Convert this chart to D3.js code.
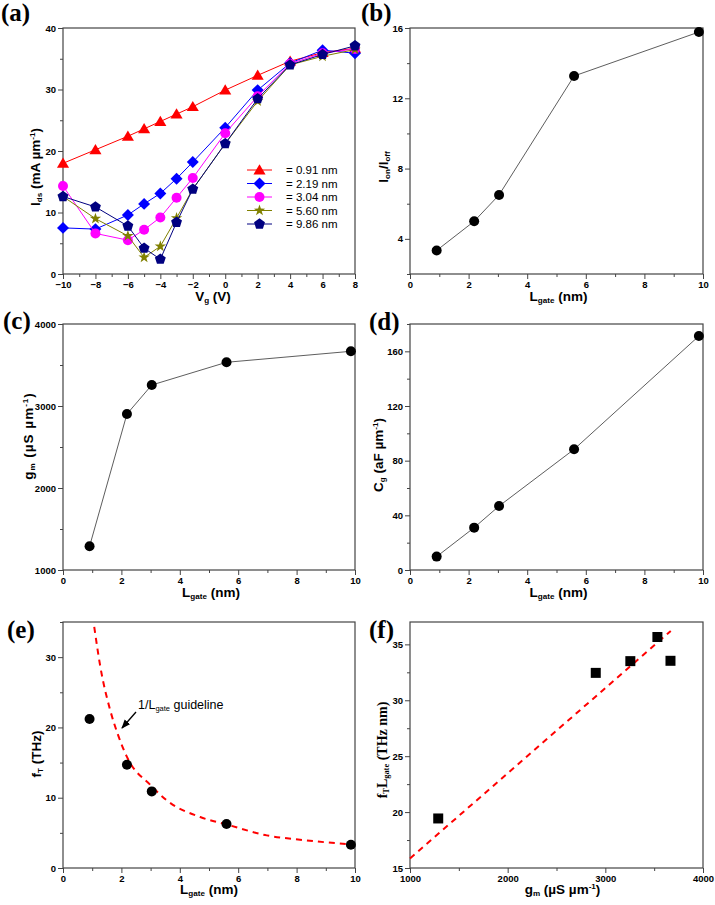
<!DOCTYPE html>
<html><head><meta charset="utf-8">
<script src="https://cdn.jsdelivr.net/npm/d3@7"></script>
<style>
body{margin:0;background:#fff}
</style>
</head><body>
<svg id="c" width="715" height="905" font-family="'Liberation Sans', Arial, sans-serif"></svg>
<script>
// ---------- DATA ----------
const vg = [-10, -8, -6, -5, -4, -3, -2, 0, 2, 4, 6, 8];
const legendLabels = ["= 0.91 nm", "= 2.19 nm", "= 3.04 nm", "= 5.60 nm", "= 9.86 nm"];
const ids091 = [18.0, 20.2, 22.4, 23.6, 24.8, 26.0, 27.2, 29.9, 32.3, 34.6, 36.0, 36.7];
const ids219 = [7.5, 7.3, 9.6, 11.4, 13.1, 15.5, 18.2, 23.8, 29.9, 34.3, 36.4, 35.9];
const ids304 = [14.3, 6.6, 5.5, 7.2, 9.2, 12.4, 15.6, 22.9, 28.9, 34.2, 35.9, 36.6];
const ids560 = [12.6, 9.0, 6.2, 2.7, 4.5, 9.1, 13.8, 21.2, 28.1, 34.0, 35.4, 36.5];
const ids986 = [12.6, 10.9, 7.8, 4.2, 2.4, 8.4, 13.8, 21.2, 28.5, 34.0, 35.7, 37.1];
const seriesColors = ["#ff0000", "#0000ff", "#ff00ff", "#808000", "#000080"];

const lgate = [0.91, 2.19, 3.04, 5.60, 9.86];
const ionIoff = [3.34, 5.0, 6.5, 13.27, 15.77];
const gm = [1289, 2902, 3256, 3533, 3667];
const cg = [9.8, 31.0, 46.8, 88.3, 171.2];
const fT = [21.2, 14.7, 10.9, 6.26, 3.32];
const fTL = [19.43, 32.45, 33.5, 35.66, 33.53];
// guideline (e), points
const guideX = [1.07, 1.28, 1.62, 1.87, 2.19, 3.01, 3.56, 4.7, 5.6, 6.98, 8.12, 10];
const guideY = [34.3, 28.6, 22.4, 19.1, 15.8, 11.75, 9.6, 7.25, 6.2, 4.64, 4.03, 3.3];
// linear guide (f)
const fitX = [1000, 3670];
const fitY = [15.85, 36.2];

// ---------- HELPERS ----------
const SANS = "'Liberation Sans', Arial, sans-serif";
const SERIF = "'Liberation Serif', 'Times New Roman', serif";
const svg = d3.select("#c");

function range(a, b, s) { const r = []; for (let v = a; v <= b + 1e-9; v += s) r.push(+v.toFixed(6)); return r; }

function panel(o) {
  const g = svg.append("g");
  const x = d3.scaleLinear().domain(o.xdom).range([o.x0, o.x0 + o.w]);
  const y = d3.scaleLinear().domain(o.ydom).range([o.y0 + o.h, o.y0]);
  const bot = o.y0 + o.h, left = o.x0;
  g.append("g").attr("transform", `translate(0,${bot})`)
    .call(d3.axisBottom(x).tickValues(o.xMinor).tickSize(3).tickFormat(""))
    .call(s => s.select(".domain").remove());
  g.append("g").attr("transform", `translate(${left},0)`)
    .call(d3.axisLeft(y).tickValues(o.yMinor).tickSize(3).tickFormat(""))
    .call(s => s.select(".domain").remove());
  g.append("g").attr("class", "ax").attr("transform", `translate(0,${bot})`)
    .call(d3.axisBottom(x).tickValues(o.xMajor).tickSize(5).tickPadding(2).tickFormat(d3.format("d")))
    .call(s => s.select(".domain").remove());
  g.append("g").attr("class", "ax").attr("transform", `translate(${left},0)`)
    .call(d3.axisLeft(y).tickValues(o.yMajor).tickSize(5).tickPadding(2).tickFormat(d3.format("d")))
    .call(s => s.select(".domain").remove());
  g.selectAll("g").attr("font-family", SANS);
  g.selectAll(".tick line").attr("stroke", "#444");
  g.selectAll(".ax text").attr("font-size", 9.5).attr("font-weight", "bold").attr("fill", "#000");
  g.append("rect").attr("x", o.x0).attr("y", o.y0).attr("width", o.w).attr("height", o.h)
    .attr("fill", "none").attr("stroke", "#444").attr("stroke-width", 1.2);
  return { g, x, y };
}

function rich(sel, parts, base) {
  parts.forEach(([t, k]) => {
    const ts = sel.append("tspan").text(t);
    if (k === "sub") ts.attr("font-size", base * 0.6).attr("baseline-shift", "-30%");
    else if (k === "sup") ts.attr("font-size", base * 0.6).attr("baseline-shift", "60%");
  });
  return sel;
}

function xTitle(p, parts, yb, opts = {}) {
  const [a, b] = p.x.range();
  const sz = opts.size || 13.5;
  const t = svg.append("text").attr("x", (a + b) / 2 + (opts.dx || 0)).attr("y", yb).attr("text-anchor", "middle")
    .attr("font-size", sz).attr("font-weight", "bold").attr("font-family", opts.serif ? SERIF : SANS);
  rich(t, parts, sz);
}
function yTitle(parts, xc, cy, opts = {}) {
  const sz = opts.size || 13.5;
  const t = svg.append("text").attr("transform", `translate(${xc},${cy}) rotate(-90)`)
    .attr("text-anchor", "middle").attr("font-size", sz).attr("font-weight", "bold")
    .attr("font-family", opts.serif ? SERIF : SANS);
  if (opts.ls) t.attr("letter-spacing", opts.ls);
  rich(t, parts, sz);
}
function panelLabel(txt, x, y) {
  svg.append("text").attr("x", x).attr("y", y).text(txt)
    .attr("font-family", SERIF).attr("font-weight", "bold").attr("font-size", 25);
}

const shapes = {
  triangle: r => `M0,${-r * 1.05}L${r * 1.1},${r * 0.8}L${-r * 1.1},${r * 0.8}Z`,
  diamond: r => `M0,${-r * 1.15}L${r * 1.15},0L0,${r * 1.15}L${-r * 1.15},0Z`,
  circle: r => `M${r},0A${r},${r} 0 1,1 ${-r},0A${r},${r} 0 1,1 ${r},0Z`,
  star: r => {
    let s = "";
    for (let i = 0; i < 10; i++) {
      const a = -Math.PI / 2 + i * Math.PI / 5, rr = i % 2 ? r * 0.45 : r * 1.15;
      s += (i ? "L" : "M") + (rr * Math.cos(a)).toFixed(2) + "," + (rr * Math.sin(a)).toFixed(2);
    }
    return s + "Z";
  },
  pentagon: r => {
    let s = "";
    for (let i = 0; i < 5; i++) {
      const a = -Math.PI / 2 + i * 2 * Math.PI / 5, rr = r * 1.1;
      s += (i ? "L" : "M") + (rr * Math.cos(a)).toFixed(2) + "," + (rr * Math.sin(a)).toFixed(2);
    }
    return s + "Z";
  },
  square: r => `M${-r},${-r}H${r}V${r}H${-r}Z`
};

function series(p, xs, ys, color, shape, r, opts = {}) {
  const pts = xs.map((d, i) => [p.x(d), p.y(ys[i])]);
  if (!opts.noLine)
    p.g.append("path").attr("d", d3.line()(pts)).attr("fill", "none")
      .attr("stroke", opts.lineColor || color).attr("stroke-width", opts.lw || 1);
  p.g.selectAll(null).data(pts).join("path")
    .attr("transform", d => `translate(${d[0]},${d[1]})`)
    .attr("d", shapes[shape](r)).attr("fill", color);
}

// ---------- PANEL (a) ----------
const pa = panel({ x0: 63, y0: 28, w: 292, h: 246, xdom: [-10, 8], ydom: [0, 40],
  xMajor: range(-10, 8, 2), xMinor: range(-9, 7, 2), yMajor: range(0, 40, 10), yMinor: range(5, 35, 10) });
const allIds = [ids091, ids219, ids304, ids560, ids986];
const shapeA = ["triangle", "diamond", "circle", "star", "pentagon"];
const radA = [5.5, 5.2, 5, 5.2, 5.2];
allIds.forEach((ys, i) => series(pa, vg, ys, seriesColors[i], shapeA[i], radA[i]));
legendLabels.forEach((lab, i) => {
  const yy = 170 + i * 13.5;
  svg.append("line").attr("x1", 247).attr("x2", 272).attr("y1", yy).attr("y2", yy)
    .attr("stroke", seriesColors[i]).attr("stroke-width", 1);
  svg.append("path").attr("transform", `translate(259.5,${yy})`).attr("d", shapes[shapeA[i]](radA[i]))
    .attr("fill", seriesColors[i]);
  svg.append("text").attr("x", 286).attr("y", yy).attr("dy", "0.36em").attr("font-size", 11.5)
    .attr("font-family", SANS).text(lab);
});
xTitle(pa, [["V", "n"], ["g", "sub"], [" (V)", "n"]], 301, { dx: 4 });
yTitle([["I", "n"], ["ds", "sub"], [" (mA µm", "n"], ["-1", "sup"], [")", "n"]], 40, 167);
panelLabel("(a)", 1, 21);

// ---------- PANEL (b) ----------
const pb = panel({ x0: 410, y0: 28, w: 293, h: 246, xdom: [0, 10], ydom: [2, 16],
  xMajor: range(0, 10, 2), xMinor: range(1, 9, 2), yMajor: range(4, 16, 4), yMinor: range(2, 14, 4) });
series(pb, lgate, ionIoff, "#000", "circle", 5, { lineColor: "#333", lw: 0.8 });
xTitle(pb, [["L", "n"], ["gate", "sub"], [" (nm)", "n"]], 301, { dx: 2 });
yTitle([["I", "n"], ["on", "sub"], ["/I", "n"], ["off", "sub"]], 388, 167);
panelLabel("(b)", 361, 21);

// ---------- PANEL (c) ----------
const pc = panel({ x0: 63, y0: 324, w: 292, h: 246, xdom: [0, 10], ydom: [1000, 4000],
  xMajor: range(0, 10, 2), xMinor: range(1, 9, 2), yMajor: range(1000, 4000, 1000), yMinor: range(1500, 3500, 1000) });
series(pc, lgate, gm, "#000", "circle", 5, { lineColor: "#333", lw: 0.8 });
xTitle(pc, [["L", "n"], ["gate", "sub"], [" (nm)", "n"]], 597, { dx: 2 });
yTitle([["g", "n"], ["m", "sub"], [" (µS µm", "n"], ["-1", "sup"], [")", "n"]], 33, 436, { ls: 1 });
panelLabel("(c)", 3, 329);

// ---------- PANEL (d) ----------
const pd = panel({ x0: 410, y0: 324, w: 293, h: 246, xdom: [0, 10], ydom: [0, 180],
  xMajor: range(0, 10, 2), xMinor: range(1, 9, 2), yMajor: range(0, 160, 40), yMinor: range(20, 180, 40) });
series(pd, lgate, cg, "#000", "circle", 5, { lineColor: "#333", lw: 0.8 });
xTitle(pd, [["L", "n"], ["gate", "sub"], [" (nm)", "n"]], 597, { dx: 2 });
yTitle([["C", "n"], ["g", "sub"], [" (aF µm", "n"], ["-1", "sup"], [")", "n"]], 383, 455);
panelLabel("(d)", 369, 330);

// ---------- PANEL (e) ----------
const pe = panel({ x0: 63, y0: 622, w: 292, h: 246, xdom: [0, 10], ydom: [0, 35],
  xMajor: range(0, 10, 2), xMinor: range(1, 9, 2), yMajor: range(0, 30, 10), yMinor: range(5, 35, 10) });
pe.g.append("path")
  .attr("d", d3.line().curve(d3.curveMonotoneX)(guideX.map((d, i) => [pe.x(d), pe.y(guideY[i])])))
  .attr("fill", "none").attr("stroke", "#ff0000").attr("stroke-width", 2).attr("stroke-dasharray", "6,5");
series(pe, lgate, fT, "#000", "circle", 5, { noLine: true });
xTitle(pe, [["L", "n"], ["gate", "sub"], [" (nm)", "n"]], 894);
yTitle([["f", "n"], ["T", "sub"], [" (THz)", "n"]], 41, 754);
panelLabel("(e)", 7, 638);
const ann = svg.append("text").attr("x", 138).attr("y", 709).attr("font-size", 12.5).attr("font-family", SANS);
rich(ann, [["1/L", "n"], ["gate", "sub"], [" guideline", "n"]], 12.5);
svg.append("defs").append("marker").attr("id", "ah").attr("viewBox", "0 0 10 10")
  .attr("refX", 9).attr("refY", 5).attr("markerWidth", 7).attr("markerHeight", 7)
  .attr("orient", "auto").append("path").attr("d", "M0,1L10,5L0,9Z").attr("fill", "#000");
svg.append("line").attr("x1", 136).attr("y1", 712).attr("x2", 122).attr("y2", 728)
  .attr("stroke", "#000").attr("stroke-width", 1.3).attr("marker-end", "url(#ah)");

// ---------- PANEL (f) ----------
const pf = panel({ x0: 410, y0: 622, w: 293, h: 246, xdom: [1000, 4000], ydom: [15, 37],
  xMajor: range(1000, 4000, 1000), xMinor: range(1500, 3500, 1000), yMajor: range(15, 35, 5), yMinor: range(17.5, 35, 5) });
pf.g.append("path")
  .attr("d", d3.line()(fitX.map((d, i) => [pf.x(d), pf.y(fitY[i])])))
  .attr("fill", "none").attr("stroke", "#ff0000").attr("stroke-width", 2).attr("stroke-dasharray", "6,5");
series(pf, gm, fTL, "#000", "square", 5, { noLine: true });
xTitle(pf, [["g", "n"], ["m", "sub"], [" (µS µm", "n"], ["-1", "sup"], [")", "n"]], 894, { dx: 6 });
yTitle([["f", "n"], ["T", "sub"], ["L", "n"], ["gate", "sub"], [" (THz nm)", "n"]], 387, 750, { serif: true, size: 14 });
panelLabel("(f)", 369, 638);
</script>
</body></html>
